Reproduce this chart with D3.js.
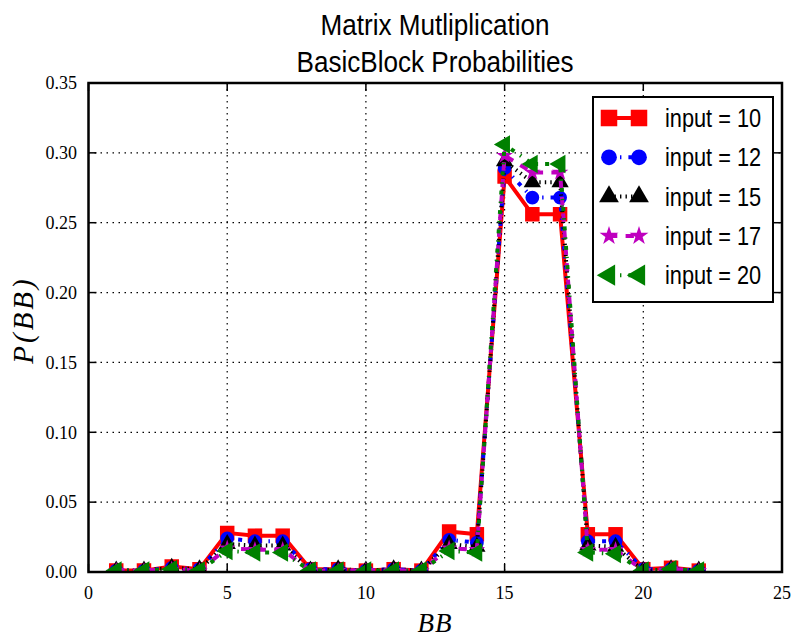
<!DOCTYPE html>
<html>
<head>
<meta charset="utf-8">
<script src="https://cdn.jsdelivr.net/npm/d3@7"></script>
<style>
  body { margin: 0; background: #fff; }
  svg { display: block; }
</style>
</head>
<body>
<svg id="bb_chart" width="792" height="640"></svg>
<script>
// basic block ids on the x axis
var bb_ids = [1,2,3,4,5,6,7,8,9,10,11,12,13,14,15,16,17,18,19,20,21,22];

// P(BB) for each input size
var input_10 = [0.001,0.001,0.004,0.002,0.028,0.026,0.026,0.002,0.002,0.001,0.002,0.001,0.029,0.027,0.283,0.256,0.256,0.027,0.027,0.002,0.003,0.001];
var input_12 = [0.001,0.001,0.003,0.002,0.024,0.022,0.022,0.002,0.002,0.001,0.002,0.001,0.023,0.021,0.289,0.268,0.268,0.022,0.022,0.002,0.002,0.001];
var input_15 = [0.001,0.001,0.003,0.002,0.020,0.019,0.019,0.001,0.002,0.001,0.002,0.001,0.020,0.018,0.294,0.279,0.279,0.019,0.018,0.001,0.002,0.001];
var input_17 = [0.001,0.001,0.002,0.001,0.017,0.016,0.016,0.001,0.001,0.001,0.001,0.001,0.017,0.016,0.298,0.286,0.286,0.016,0.016,0.001,0.002,0.001];
var input_20 = [0.001,0.001,0.002,0.001,0.015,0.014,0.014,0.001,0.001,0.001,0.001,0.001,0.015,0.014,0.306,0.292,0.292,0.014,0.013,0.001,0.002,0.001];

var series_labels = ["input = 10", "input = 12", "input = 15", "input = 17", "input = 20"];
var x_ticks = [0,5,10,15,20,25];
var y_ticks = [0.00,0.05,0.10,0.15,0.20,0.25,0.30,0.35];

var series_styles = [
    {color: "#ff0000", dash: null,          symbol: d3.symbolSquare,   size: 210, rotate: 0},
    {color: "#0000ff", dash: "4,7,1.4,7",   symbol: d3.symbolCircle,   size: 150, rotate: 0},
    {color: "#000000", dash: "1.4,4.1",     symbol: d3.symbolTriangle, size: 130, rotate: 0},
    {color: "#bf00bf", dash: "8.3,8.3",     symbol: d3.symbolStar,     size: 85,  rotate: 0},
    {color: "#008000", dash: "4,7,1.4,7",   symbol: d3.symbolTriangle, size: 150, rotate: -90}
];

var left = 88.5, right = 782, top_ = 83, bottom = 572;

var x = d3.scaleLinear().domain([0,25]).range([left,right]);
var y = d3.scaleLinear().domain([0,0.35]).range([bottom,top_]);

function draw_chart(){
    var svg = d3.select("#bb_chart");
    var all_series = [input_10, input_12, input_15, input_17, input_20];

    svg.append("defs").append("clipPath")
        .attr("id", "plot_clip")
        .append("rect")
        .attr("x", left).attr("y", top_)
        .attr("width", right-left).attr("height", bottom-top_);

    // dotted grid
    var grid = svg.append("g").attr("class", "grid");
    grid.selectAll("line.gx")
        .data(x_ticks.slice(1,-1))
        .enter().append("line")
        .attr("x1", function(d){ return x(d); })
        .attr("x2", function(d){ return x(d); })
        .attr("y1", top_).attr("y2", bottom)
        .attr("stroke", "#000").attr("stroke-width", 1.2)
        .attr("stroke-dasharray", "1.5,4.5");
    grid.selectAll("line.gy")
        .data(y_ticks.slice(1,-1))
        .enter().append("line")
        .attr("y1", function(d){ return y(d); })
        .attr("y2", function(d){ return y(d); })
        .attr("x1", left).attr("x2", right)
        .attr("stroke", "#000").attr("stroke-width", 1.2)
        .attr("stroke-dasharray", "1.5,4.5");

    // series
    var plot = svg.append("g").attr("clip-path", "url(#plot_clip)");
    var line = d3.line()
        .x(function(d){ return x(d[0]); })
        .y(function(d){ return y(d[1]); });

    all_series.forEach(function(vals, i){
        var st = series_styles[i];
        var pts = bb_ids.map(function(b, j){ return [b, vals[j]]; });
        var g = plot.append("g");
        g.append("path")
            .attr("d", line(pts))
            .attr("fill", "none")
            .attr("stroke", st.color)
            .attr("stroke-width", 4)
            .attr("stroke-linejoin", "round")
            .attr("stroke-dasharray", st.dash);
        g.selectAll("path.mk")
            .data(pts)
            .enter().append("path")
            .attr("d", d3.symbol().type(st.symbol).size(st.size))
            .attr("transform", function(d){ return "translate(" + x(d[0]) + "," + y(d[1]) + ") rotate(" + st.rotate + ")"; })
            .attr("fill", st.color);
    });

    draw_axes(svg);
    draw_legend(svg);
    draw_titles(svg);
}

function draw_axes(svg){
    var ax = svg.append("g").attr("class", "axes");
    var tick_len = 8;

    // inward ticks on all four sides
    x_ticks.forEach(function(t){
        ax.append("line").attr("x1", x(t)).attr("x2", x(t)).attr("y1", bottom).attr("y2", bottom - tick_len)
            .attr("stroke", "#000").attr("stroke-width", 1.5);
        ax.append("line").attr("x1", x(t)).attr("x2", x(t)).attr("y1", top_).attr("y2", top_ + tick_len)
            .attr("stroke", "#000").attr("stroke-width", 1.5);
    });
    y_ticks.forEach(function(t){
        ax.append("line").attr("y1", y(t)).attr("y2", y(t)).attr("x1", left).attr("x2", left + tick_len)
            .attr("stroke", "#000").attr("stroke-width", 1.5);
        ax.append("line").attr("y1", y(t)).attr("y2", y(t)).attr("x1", right).attr("x2", right - tick_len)
            .attr("stroke", "#000").attr("stroke-width", 1.5);
    });

    ax.append("rect")
        .attr("x", left).attr("y", top_)
        .attr("width", right-left).attr("height", bottom-top_)
        .attr("fill", "none").attr("stroke", "#000").attr("stroke-width", 2.5);

    ax.selectAll("text.xt")
        .data(x_ticks)
        .enter().append("text")
        .attr("x", function(d){ return x(d); })
        .attr("y", 599)
        .attr("text-anchor", "middle")
        .style("font-family", "'Liberation Serif', serif")
        .style("font-size", "18px")
        .text(function(d){ return d; });

    ax.selectAll("text.yt")
        .data(y_ticks)
        .enter().append("text")
        .attr("x", 77)
        .attr("y", function(d){ return y(d); })
        .attr("dy", "0.35em")
        .attr("text-anchor", "end")
        .style("font-family", "'Liberation Serif', serif")
        .style("font-size", "18px")
        .text(function(d){ return d.toFixed(2); });

    svg.append("text")
        .attr("x", 435).attr("y", 632)
        .attr("text-anchor", "middle")
        .style("font-family", "'Liberation Serif', serif")
        .style("font-style", "italic")
        .style("font-size", "27px")
        .style("letter-spacing", "1px")
        .text("BB");

    svg.append("text")
        .attr("transform", "translate(33,320) rotate(-90)")
        .attr("text-anchor", "middle")
        .style("font-family", "'Liberation Serif', serif")
        .style("font-style", "italic")
        .style("font-size", "29px")
        .style("letter-spacing", "3px")
        .text("P(BB)");
}

function draw_legend(svg){
    var lg = svg.append("g").attr("class", "legend");
    lg.append("rect")
        .attr("x", 593).attr("y", 97)
        .attr("width", 180).attr("height", 205)
        .attr("fill", "#fff").attr("stroke", "#000").attr("stroke-width", 2);

    series_labels.forEach(function(lab, i){
        var st = series_styles[i];
        var ry = 118 + i*39.3;
        lg.append("line")
            .attr("x1", 609).attr("x2", 639).attr("y1", ry).attr("y2", ry)
            .attr("stroke", st.color).attr("stroke-width", 4)
            .attr("stroke-dasharray", st.dash);
        [609, 639].forEach(function(mx){
            lg.append("path")
                .attr("d", d3.symbol().type(st.symbol).size(st.size * 1.3))
                .attr("transform", "translate(" + mx + "," + ry + ") rotate(" + st.rotate + ")")
                .attr("fill", st.color);
        });
        lg.append("text")
            .attr("transform", "translate(665," + (ry + 9) + ") scale(0.87,1)")
            .style("font-family", "'Liberation Sans', Arial, sans-serif")
            .style("font-size", "25px")
            .text(lab);
    });
}

function draw_titles(svg){
    var lines = ["Matrix Mutliplication", "BasicBlock Probabilities"];
    lines.forEach(function(t, i){
        svg.append("text")
            .attr("transform", "translate(435," + (35 + i*37) + ") scale(0.9,1)")
            .attr("text-anchor", "middle")
            .style("font-family", "'Liberation Sans', Arial, sans-serif")
            .style("font-size", "29px")
            .text(t);
    });
}

draw_chart();
</script>
</body>
</html>
